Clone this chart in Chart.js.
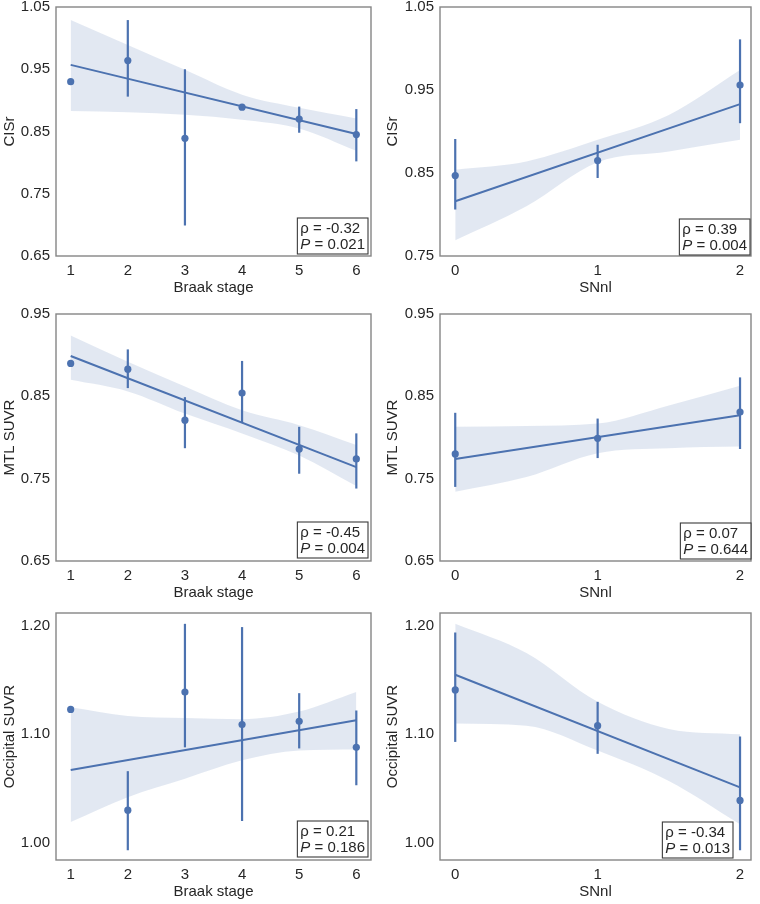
<!DOCTYPE html>
<html>
<head>
<meta charset="utf-8">
<script src="https://cdn.jsdelivr.net/npm/chart.js@4/dist/chart.umd.min.js"></script>
<style>
  body { margin: 0; background: #fff; }
  #wrap { position: relative; width: 760px; height: 904px; }
  .panel { position: absolute; width: 380px; height: 300px; }
</style>
</head>
<body>
<div id="wrap"></div>
<script>
// x categories
const braakStages = [1, 2, 3, 4, 5, 6];
const snnlGrades = [0, 1, 2];
const snnlBandX = [0, 0.5, 1, 1.5, 2];

// CISr vs Braak stage
const cisrBraakMean = [0.930, 0.964, 0.839, 0.889, 0.870, 0.845];
const cisrBraakLow = [null, 0.906, 0.699, 0.885, 0.848, 0.802];
const cisrBraakHigh = [null, 1.029, 0.950, 0.893, 0.890, 0.886];
const cisrBraakFit = [0.957, 0.846];
const cisrBraakBandHi = [1.029, 0.989, 0.949, 0.909, 0.888, 0.871];
const cisrBraakBandLo = [0.883, 0.881, 0.877, 0.869, 0.855, 0.819];

// CISr vs SNnl
const cisrSnnlMean = [0.847, 0.865, 0.956];
const cisrSnnlLow = [0.806, 0.844, 0.910];
const cisrSnnlHigh = [0.891, 0.884, 1.011];
const cisrSnnlFit = [0.816, 0.933];
const cisrSnnlBandHi = [0.854, 0.864, 0.890, 0.920, 0.974];
const cisrSnnlBandLo = [0.769, 0.810, 0.863, 0.876, 0.890];

// MTL SUVR vs Braak stage
const mtlBraakMean = [0.890, 0.883, 0.821, 0.854, 0.786, 0.774];
const mtlBraakLow = [null, 0.860, 0.787, 0.818, 0.756, 0.738];
const mtlBraakHigh = [null, 0.907, 0.849, 0.893, 0.813, 0.805];
const mtlBraakFit = [0.899, 0.764];
const mtlBraakBandHi = [0.924, 0.892, 0.862, 0.833, 0.815, 0.791];
const mtlBraakBandLo = [0.870, 0.856, 0.829, 0.805, 0.778, 0.741];

// MTL SUVR vs SNnl
const mtlSnnlMean = [0.780, 0.799, 0.831];
const mtlSnnlLow = [0.740, 0.775, 0.786];
const mtlSnnlHigh = [0.830, 0.823, 0.873];
const mtlSnnlFit = [0.774, 0.827];
const mtlSnnlBandHi = [0.813, 0.814, 0.817, 0.839, 0.863];
const mtlSnnlBandLo = [0.734, 0.752, 0.781, 0.787, 0.789];

// Occipital SUVR vs Braak stage
const occBraakMean = [1.123, 1.030, 1.139, 1.109, 1.112, 1.088];
const occBraakLow = [null, 0.993, 1.088, 1.020, 1.087, 1.053];
const occBraakHigh = [null, 1.066, 1.202, 1.199, 1.138, 1.122];
const occBraakFit = [1.067, 1.113];
const occBraakBandHi = [1.125, 1.117, 1.115, 1.114, 1.121, 1.139];
const occBraakBandLo = [1.019, 1.042, 1.059, 1.076, 1.085, 1.086];

// Occipital SUVR vs SNnl
const occSnnlMean = [1.141, 1.108, 1.039];
const occSnnlLow = [1.093, 1.082, 0.993];
const occSnnlHigh = [1.194, 1.130, 1.098];
const occSnnlFit = [1.155, 1.051];
const occSnnlBandHi = [1.202, 1.175, 1.130, 1.105, 1.100];
const occSnnlBandLo = [1.110, 1.108, 1.085, 1.057, 1.017];

// tick labels
const cisrTicksA = [0.65, 0.75, 0.85, 0.95, 1.05];
const cisrTicksB = [0.75, 0.85, 0.95, 1.05];
const mtlTicks = [0.65, 0.75, 0.85, 0.95];
const occTicks = [1.00, 1.10, 1.20];

// spearman labels
const rhoLabels = ['-0.32', '0.39', '-0.45', '0.07', '0.21', '-0.34'];
const pLabels = ['0.021', '0.004', '0.004', '0.644', '0.186', '0.013'];

const blue = '#4C72B0';
const bandColor = 'rgba(76, 114, 176, 0.16)';
const textColor = '#262626';
const fontFamily = '"Liberation Sans", Arial, sans-serif';

const panels = [
  { x: braakStages, bandX: braakStages, mean: cisrBraakMean, lo: cisrBraakLow, hi: cisrBraakHigh, fit: cisrBraakFit,
    bandHi: cisrBraakBandHi, bandLo: cisrBraakBandLo, yTicks: cisrTicksA, yMin: 0.65, yMax: 1.05,
    xTitle: 'Braak stage', yTitle: 'CISr', left: 0, top: 0 },
  { x: snnlGrades, bandX: snnlBandX, mean: cisrSnnlMean, lo: cisrSnnlLow, hi: cisrSnnlHigh, fit: cisrSnnlFit,
    bandHi: cisrSnnlBandHi, bandLo: cisrSnnlBandLo, yTicks: cisrTicksB, yMin: 0.75, yMax: 1.05,
    xTitle: 'SNnl', yTitle: 'CISr', left: 380, top: 0 },
  { x: braakStages, bandX: braakStages, mean: mtlBraakMean, lo: mtlBraakLow, hi: mtlBraakHigh, fit: mtlBraakFit,
    bandHi: mtlBraakBandHi, bandLo: mtlBraakBandLo, yTicks: mtlTicks, yMin: 0.65, yMax: 0.95,
    xTitle: 'Braak stage', yTitle: 'MTL SUVR', left: 0, top: 305 },
  { x: snnlGrades, bandX: snnlBandX, mean: mtlSnnlMean, lo: mtlSnnlLow, hi: mtlSnnlHigh, fit: mtlSnnlFit,
    bandHi: mtlSnnlBandHi, bandLo: mtlSnnlBandLo, yTicks: mtlTicks, yMin: 0.65, yMax: 0.95,
    xTitle: 'SNnl', yTitle: 'MTL SUVR', left: 380, top: 305 },
  { x: braakStages, bandX: braakStages, mean: occBraakMean, lo: occBraakLow, hi: occBraakHigh, fit: occBraakFit,
    bandHi: occBraakBandHi, bandLo: occBraakBandLo, yTicks: occTicks, yMin: 0.984, yMax: 1.212,
    xTitle: 'Braak stage', yTitle: 'Occipital SUVR', left: 0, top: 604 },
  { x: snnlGrades, bandX: snnlBandX, mean: occSnnlMean, lo: occSnnlLow, hi: occSnnlHigh, fit: occSnnlFit,
    bandHi: occSnnlBandHi, bandLo: occSnnlBandLo, yTicks: occTicks, yMin: 0.984, yMax: 1.212,
    xTitle: 'SNnl', yTitle: 'Occipital SUVR', left: 380, top: 604 }
];

// layout per panel: chart area top padding, inset of the stats box
const padTops = [7, 7, 9, 9, 9, 9];
const boxRight = [3, 1, 3, 0, 3, 18];
const boxBottom = [2, 1, 3, 2, 3, 2];

const frameAndNote = {
  id: 'frameAndNote',
  afterDatasetsDraw(chart, args, opts) {
    const { ctx, chartArea: a } = chart;
    ctx.save();
    ctx.strokeStyle = '#858585';
    ctx.lineWidth = 1.4;
    ctx.strokeRect(a.left, a.top, a.right - a.left, a.bottom - a.top);

    // stats box
    ctx.font = '15px ' + fontFamily;
    const line1 = 'ρ = ' + opts.rho;
    const rest = ' = ' + opts.p;
    const w1 = ctx.measureText(line1).width;
    ctx.font = 'italic 15px ' + fontFamily;
    const wp = ctx.measureText('P').width;
    ctx.font = '15px ' + fontFamily;
    const w2 = wp + ctx.measureText(rest).width;
    const bw = Math.max(w1, w2) + 6;
    const bh = 36;
    const bx = a.right - opts.right - bw;
    const by = a.bottom - opts.bottom - bh;
    ctx.fillStyle = '#fff';
    ctx.fillRect(bx, by, bw, bh);
    ctx.strokeStyle = '#3a3a3a';
    ctx.lineWidth = 1.1;
    ctx.strokeRect(bx, by, bw, bh);
    ctx.fillStyle = textColor;
    ctx.textBaseline = 'middle';
    ctx.textAlign = 'left';
    ctx.fillText(line1, bx + 3, by + 11);
    ctx.font = 'italic 15px ' + fontFamily;
    ctx.fillText('P', bx + 3, by + 27);
    ctx.font = '15px ' + fontFamily;
    ctx.fillText(rest, bx + 3 + wp, by + 27);
    ctx.restore();
  }
};

const wrap = document.getElementById('wrap');

panels.forEach((p, k) => {
  const div = document.createElement('div');
  div.className = 'panel';
  div.style.left = p.left + 'px';
  div.style.top = p.top + 'px';
  const canvas = document.createElement('canvas');
  canvas.width = 380;
  canvas.height = 300;
  div.appendChild(canvas);
  wrap.appendChild(div);

  const isBraak = p.x.length > 3;
  const xMin = isBraak ? 0.743 : -0.107;
  const xMax = isBraak ? 6.257 : 2.077;
  const first = p.x[0];
  const last = p.x[p.x.length - 1];

  const datasets = [];
  datasets.push({
    type: 'line', order: 10,
    data: p.bandX.map((x, i) => ({ x: x, y: p.bandHi[i] })),
    borderWidth: 0, borderColor: 'rgba(0,0,0,0)', pointRadius: 0,
    fill: '+1', backgroundColor: bandColor, cubicInterpolationMode: 'monotone'
  });
  datasets.push({
    type: 'line', order: 11,
    data: p.bandX.map((x, i) => ({ x: x, y: p.bandLo[i] })),
    borderWidth: 0, borderColor: 'rgba(0,0,0,0)', pointRadius: 0,
    fill: false, cubicInterpolationMode: 'monotone'
  });
  datasets.push({
    type: 'line', order: 3,
    data: [{ x: first, y: p.fit[0] }, { x: last, y: p.fit[1] }],
    borderColor: blue, borderWidth: 2, pointRadius: 0, fill: false
  });
  p.x.forEach((x, i) => {
    if (p.lo[i] == null) return;
    datasets.push({
      type: 'line', order: 2,
      data: [{ x: x, y: p.lo[i] }, { x: x, y: p.hi[i] }],
      borderColor: blue, borderWidth: 2.2, pointRadius: 0, fill: false
    });
  });
  datasets.push({
    type: 'scatter', order: 1,
    data: p.x.map((x, i) => ({ x: x, y: p.mean[i] })),
    backgroundColor: blue, borderWidth: 0, pointRadius: 3.6
  });

  const font = { family: fontFamily, size: 15 };

  new Chart(canvas, {
    type: 'scatter',
    data: { datasets: datasets },
    options: {
      responsive: false,
      animation: false,
      events: [],
      layout: { autoPadding: false, padding: { top: padTops[k], right: 9, left: 0, bottom: 0 } },
      plugins: {
        legend: { display: false },
        tooltip: { enabled: false },
        frameAndNote: { rho: rhoLabels[k], p: pLabels[k], right: boxRight[k], bottom: boxBottom[k] }
      },
      scales: {
        x: {
          type: 'linear', min: xMin, max: xMax,
          grid: { display: false, drawTicks: false },
          border: { display: false },
          afterBuildTicks: s => { s.ticks = p.x.map(v => ({ value: v })); },
          afterFit: s => { s.height = 44; s.paddingLeft = 0; s.paddingRight = 0; },
          ticks: { padding: 6, color: textColor, font: font, callback: v => String(v) },
          title: { display: true, text: p.xTitle, color: textColor, font: font, padding: { top: 0, bottom: 3 } }
        },
        y: {
          type: 'linear', min: p.yMin, max: p.yMax,
          grid: { display: false, drawTicks: false },
          border: { display: false },
          afterBuildTicks: s => { s.ticks = p.yTicks.map(v => ({ value: v })); },
          afterFit: s => { s.width = isBraak ? 56 : 60; s.paddingTop = 0; s.paddingBottom = 0; },
          ticks: { padding: 6, color: textColor, font: font, callback: v => v.toFixed(2) },
          title: { display: true, text: p.yTitle, color: textColor, font: font, padding: { top: isBraak ? 1 : 4, bottom: 0 } }
        }
      }
    },
    plugins: [frameAndNote]
  });
});
</script>
</body>
</html>
